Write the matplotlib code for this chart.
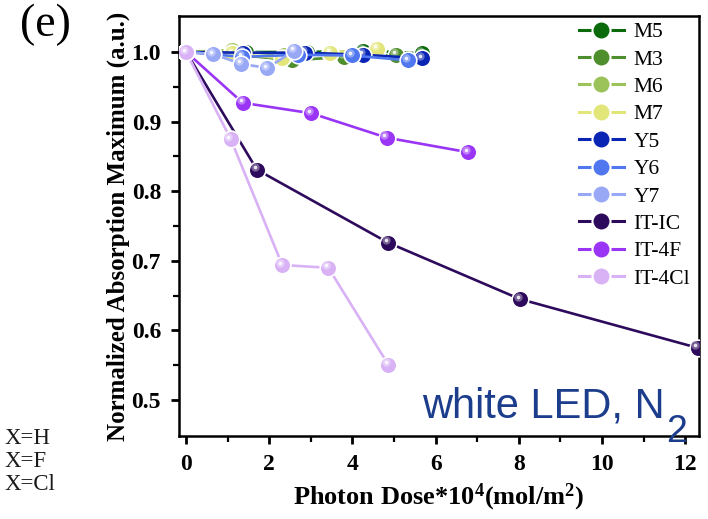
import matplotlib
matplotlib.use('Agg')
import matplotlib.pyplot as plt
from matplotlib.lines import Line2D
from matplotlib import transforms
from matplotlib.colors import to_rgb

plt.rcParams['font.family'] = ['Liberation Serif', 'DejaVu Serif']
plt.rcParams['mathtext.fontset'] = 'custom'
plt.rcParams['mathtext.rm'] = 'Liberation Serif:bold'
plt.rcParams['mathtext.it'] = 'Liberation Serif:bold'
plt.rcParams['mathtext.bf'] = 'Liberation Serif:bold'

# photon dose (x10^4 mol/m^2) and normalized absorption maximum for each acceptor
names = ['M5', 'M3', 'M6', 'M7', 'Y5', 'Y6', 'Y7', 'IT-IC', 'IT-4F', 'IT-4Cl']
colors = ['#0b6a0b', '#4e8e2c', '#9cc25a', '#e2e678', '#0a24b4',
          '#5077f0', '#98a8f5', '#2e0a5c', '#9a35f5', '#d9b2f6']

dose_M5 = [0, 1.45, 2.9, 4.25, 5.68]
abs_M5 = [1.0, 1.0, 1.0, 1.002, 0.998]
dose_M3 = [0, 1.25, 2.55, 3.8, 5.05]
abs_M3 = [1.0, 0.996, 0.988, 0.993, 0.996]
dose_M6 = [0, 1.1, 2.35, 3.45, 4.6]
abs_M6 = [1.0, 1.003, 0.995, 0.999, 1.002]
dose_M7 = [0, 1.1, 2.3, 3.46, 4.59]
abs_M7 = [1.0, 0.998, 0.991, 0.999, 1.005]
dose_Y5 = [0, 1.37, 2.86, 4.25, 5.67]
abs_Y5 = [1.0, 0.999, 0.999, 0.996, 0.991]
dose_Y6 = [0, 1.35, 2.7, 4.0, 5.33]
abs_Y6 = [1.0, 0.993, 0.996, 0.995, 0.988]
dose_Y7 = [0, 0.65, 1.32, 1.95, 2.6]
abs_Y7 = [1.0, 0.997, 0.983, 0.977, 1.002]
dose_ITIC = [0, 1.70, 4.86, 8.03, 12.3]
abs_ITIC = [1.0, 0.831, 0.726, 0.645, 0.575]
dose_IT4F = [0, 1.36, 3.01, 4.82, 6.78]
abs_IT4F = [1.0, 0.927, 0.912, 0.877, 0.856]
dose_IT4Cl = [0, 1.07, 2.31, 3.42, 4.86]
abs_IT4Cl = [1.0, 0.875, 0.694, 0.690, 0.551]

doses = [dose_M5, dose_M3, dose_M6, dose_M7, dose_Y5, dose_Y6, dose_Y7,
         dose_ITIC, dose_IT4F, dose_IT4Cl]
absorb = [abs_M5, abs_M3, abs_M6, abs_M7, abs_Y5, abs_Y6, abs_Y7,
          abs_ITIC, abs_IT4F, abs_IT4Cl]


def lighten(c, f):
    r, g, b = to_rgb(c)
    return (r + (1 - r) * f, g + (1 - g) * f, b + (1 - b) * f)


fig = plt.figure(figsize=(7.08, 5.19), dpi=100)
ax = fig.add_axes([0.253, 0.160, 0.734, 0.809])

# small offset glint on every ball marker
hl = transforms.offset_copy(ax.transData, fig=fig, x=-1.6, y=1.8, units='points')
handles = []
for i in range(len(names)):
    ax.plot(doses[i], absorb[i], '-o', color=colors[i], lw=1.9, ms=12,
            mfc=colors[i], mec='white', mew=1.2, zorder=3 + i * 0.1)
    ax.plot(doses[i], absorb[i], 'o', ms=6, mfc=lighten(colors[i], 0.35),
            mec='none', transform=hl, zorder=3.05 + i * 0.1)
    ax.plot(doses[i], absorb[i], 'o', ms=2.6, mfc=(1, 1, 1, 0.85),
            mec='none', transform=hl, zorder=3.06 + i * 0.1)
    handles.append(Line2D([], [], color=colors[i], lw=2.2, marker='o', ms=13,
                          mfc=colors[i], mec='white', mew=1.5))

ax.set_xlim(-0.17, 12.33)
ax.set_ylim(0.4484, 1.0516)
ax.set_xticks(range(0, 13, 2))
ax.set_xticks(range(1, 13, 2), minor=True)
ax.set_yticks([0.5, 0.6, 0.7, 0.8, 0.9, 1.0])
ax.set_yticks([0.55, 0.65, 0.75, 0.85, 0.95], minor=True)
ax.tick_params(which='major', direction='out', length=6, width=2, labelsize=17, pad=7)
ax.tick_params(which='minor', direction='out', length=4, width=1.6)
for lab in ax.get_xticklabels() + ax.get_yticklabels():
    lab.set_fontweight('bold')
for sp in ax.spines.values():
    sp.set_linewidth(1.8)

ax.set_xlabel('Photon Dose*10$^{4}$(mol/m$^{2}$)', fontsize=19, fontweight='bold', labelpad=5)
ax.set_ylabel('Normalized Absorption Maximum (a.u.)', fontsize=18, fontweight='bold', labelpad=1)

ax.legend(handles, names, loc='upper right', bbox_to_anchor=(1.0, 1.006), frameon=False,
          fontsize=15.5, handlelength=2.1, handletextpad=0.45, labelspacing=0.34,
          borderaxespad=0.1, borderpad=0.3)

t = ax.text(0.935, 0.044, 'white LED, N', transform=ax.transAxes, ha='right', va='baseline',
            fontsize=30, color='#1c3c8c', family='Liberation Sans')
ax.annotate('2', xy=(1.0, 0.0), xycoords=t, xytext=(1, -11), textcoords='offset points',
            ha='left', va='baseline', fontsize=27, color='#1c3c8c', family='Liberation Sans')

fig.text(0.064, 0.952, '(e)', fontsize=33, ha='center', va='center')
for y, s in zip([0.156, 0.110, 0.066], ['X=H', 'X=F', 'X=Cl']):
    fig.text(0.006, y, s, fontsize=16.5, ha='left', va='center', color='#1a1a1a')

fig.savefig('out.png', dpi=100)
